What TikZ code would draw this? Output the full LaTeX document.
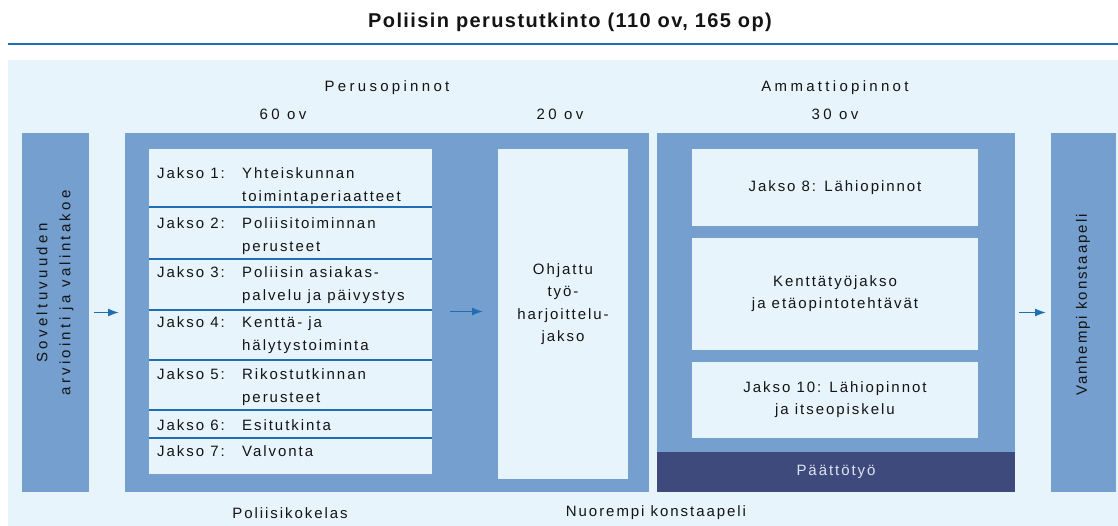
\documentclass[tikz,border=0pt]{standalone}
\usepackage{fontspec}
\usepackage{tikz}
\usetikzlibrary{positioning, arrows.meta}
\newfontfamily\bodyfont[LetterSpace=13]{Liberation Sans}
\newfontfamily\widefont[LetterSpace=22]{Liberation Sans}
\newfontfamily\titlefont[LetterSpace=7]{Liberation Sans}
\definecolor{Panel_blue}{rgb}{0.910, 0.957, 0.984}
\definecolor{Box_blue}{rgb}{0.455, 0.624, 0.808}
\definecolor{Band_navy}{rgb}{0.243, 0.290, 0.486}
\definecolor{Line_blue}{rgb}{0.122, 0.431, 0.706}
\definecolor{Ink_gray}{rgb}{0.080, 0.080, 0.080}
\definecolor{Band_text}{rgb}{0.870, 0.890, 0.940}
\tikzset{
  box/.style={fill=Box_blue, inner sep=0pt, outer sep=0pt, anchor=north west},
  pane/.style={fill=Panel_blue, inner sep=0pt, outer sep=0pt, anchor=north west},
  txt/.style={inner sep=0pt, text=Ink_gray, font=\bodyfont\fontsize{15}{23}\selectfont},
  grouplabel/.style={txt, font=\widefont\fontsize{15}{23}\selectfont},
  rowline/.style={draw=Line_blue, line width=1.5pt},
  arr/.style={draw=Line_blue, line width=1.6pt, -{Latex[length=11pt,width=8pt]}}
}
\begin{document}
\begin{tikzpicture}[x=1pt, y=-1pt]
        \useasboundingbox (0,0) rectangle (1118,526);
        \node[txt, font=\titlefont\bfseries\fontsize{20}{24}\selectfont] (title) at (570,22) {Poliisin perustutkinto (110 ov, 165 op)};
        \draw[Line_blue, line width=2.4pt] (8,44) -- (1118,44);
        \fill[Panel_blue] (8,60) rectangle (1118,526);

        \node[grouplabel] (perus) at (387,88) {Perusopinnot};
        \node[grouplabel] (ov60) at (283,114) {60 ov};
        \node[grouplabel] (ov20) at (560,114) {20 ov};
        \node[grouplabel] (ammatti) at (835,88) {Ammattiopinnot};
        \node[grouplabel] (ov30) at (835,114) {30 ov};

        \node[box, minimum width=67pt, minimum height=359pt] (entry) at (22,133) {};
        \node[grouplabel, rotate=90, align=center] (entrytxt) at (55,293) {Soveltuvuuden\\arviointi ja valintakoe};

        \node[box, minimum width=524pt, minimum height=359pt] (basic) at (125,133) {};
        \node[pane, minimum width=283pt, minimum height=325pt] (list) at (149,149) {};
        \draw[rowline] (149,207) -- (432,207);
        \draw[rowline] (149,259) -- (432,259);
        \draw[rowline] (149,310) -- (432,310);
        \draw[rowline] (149,360) -- (432,360);
        \draw[rowline] (149,410) -- (432,410);
        \draw[rowline] (149,438) -- (432,438);
        \node[txt, anchor=north west] (j1) at (157,167.5) {Jakso 1:};
        \node[txt, anchor=north west, align=left] (j1t) at (242,167.5) {Yhteiskunnan\\toimintaperiaatteet};
        \node[txt, anchor=north west] (j2) at (157,217.5) {Jakso 2:};
        \node[txt, anchor=north west, align=left] (j2t) at (242,217.5) {Poliisitoiminnan\\perusteet};
        \node[txt, anchor=north west] (j3) at (157,266.5) {Jakso 3:};
        \node[txt, anchor=north west, align=left] (j3t) at (242,266.5) {Poliisin asiakas-\\palvelu ja päivystys};
        \node[txt, anchor=north west] (j4) at (157,316.5) {Jakso 4:};
        \node[txt, anchor=north west, align=left] (j4t) at (242,316.5) {Kenttä- ja\\hälytystoiminta};
        \node[txt, anchor=north west] (j5) at (157,368.5) {Jakso 5:};
        \node[txt, anchor=north west, align=left] (j5t) at (242,368.5) {Rikostutkinnan\\perusteet};
        \node[txt, anchor=north west] (j6) at (157,419.5) {Jakso 6:};
        \node[txt, anchor=north west] (j6t) at (242,419.5) {Esitutkinta};
        \node[txt, anchor=north west] (j7) at (157,445.5) {Jakso 7:};
        \node[txt, anchor=north west] (j7t) at (242,445.5) {Valvonta};

        \node[pane, minimum width=130pt, minimum height=330pt] (guided) at (498,149) {};
        \node[txt, align=center, font=\bodyfont\fontsize{15}{22.5}\selectfont] (guidedtxt) at (563,304) {Ohjattu\\työ-\\harjoittelu-\\jakso};

        \node[box, minimum width=358pt, minimum height=359pt] (prof) at (657,133) {};
        \node[pane, txt, anchor=north west, minimum width=286pt, minimum height=77pt] (j8) at (692,149) {Jakso 8: Lähiopinnot};
        \node[pane, txt, anchor=north west, align=center, minimum width=286pt, minimum height=112pt, font=\bodyfont\fontsize{15}{22}\selectfont] (field) at (692,238) {Kenttätyöjakso\\ja etäopintotehtävät};
        \node[pane, txt, anchor=north west, align=center, minimum width=286pt, minimum height=76pt, font=\bodyfont\fontsize{15}{22}\selectfont] (j10) at (692,362) {Jakso 10: Lähiopinnot\\ja itseopiskelu};
        \node[fill=Band_navy, inner sep=0pt, outer sep=0pt, anchor=north west, minimum width=358pt, minimum height=40pt, text=Band_text, font=\bodyfont\fontsize{15}{23}\selectfont] (thesis) at (657,452) {Päättötyö};

        \node[box, minimum width=65pt, minimum height=359pt] (senior) at (1051,133) {};
        \node[txt, rotate=90] (seniortxt) at (1083,305) {Vanhempi konstaapeli};

        \node[txt] (cadet) at (290,513) {Poliisikokelas};
        \node[txt] (junior) at (656,513) {Nuorempi konstaapeli};

        \draw[arr, shorten <=5pt, shorten >=6pt] (entry) -- (basic);
        \draw[arr, shorten <=18pt, shorten >=15pt] (list.east) -- (list.east -| guided.west);
        \draw[arr, shorten <=4pt, shorten >=5pt] (prof) -- (senior);
    \end{tikzpicture}
\end{document}
